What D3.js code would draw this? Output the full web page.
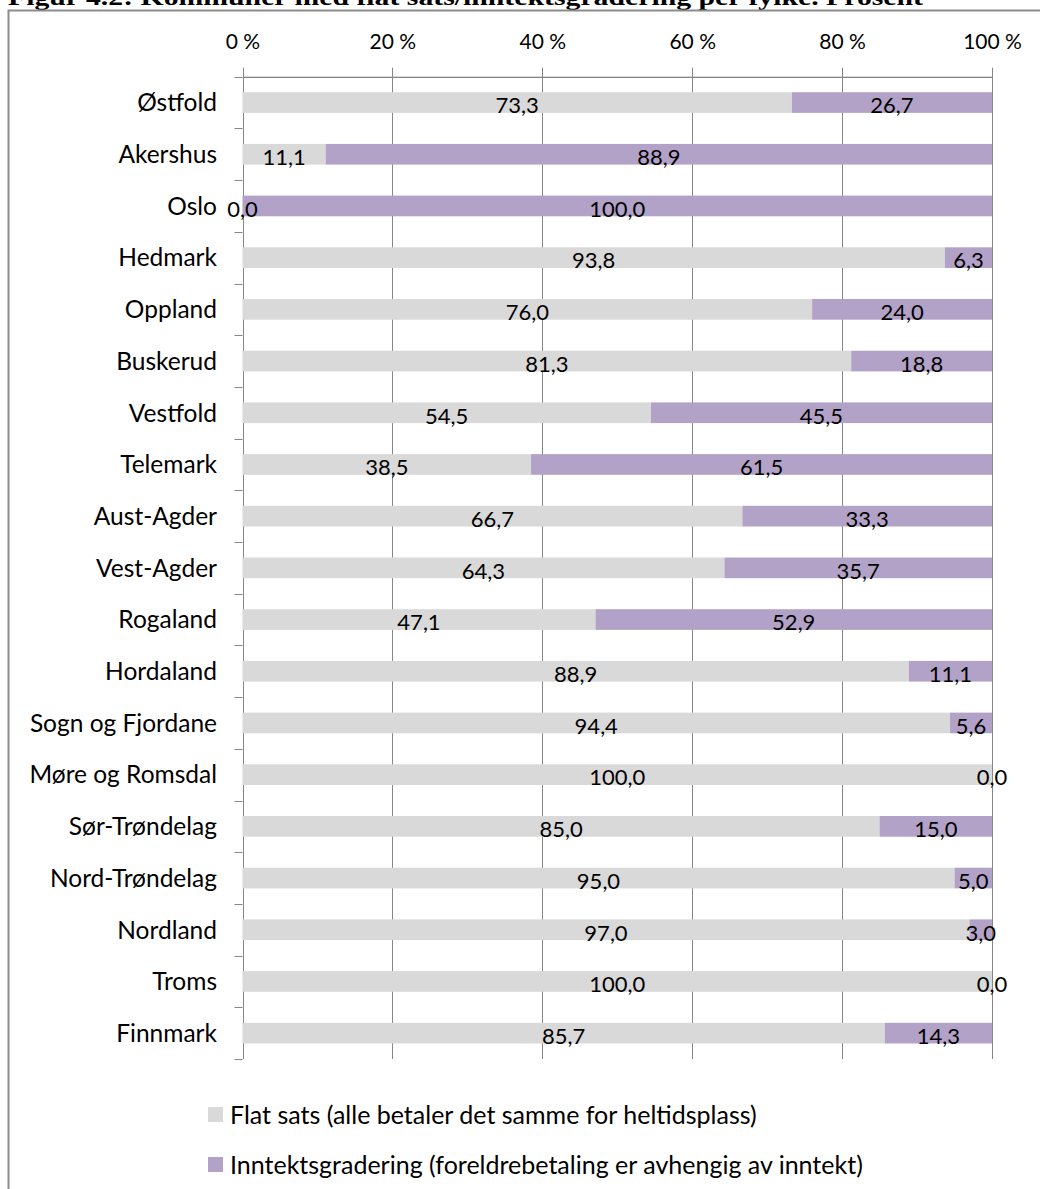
<!DOCTYPE html>
<html>
<head>
<meta charset="utf-8">
<script src="https://cdn.jsdelivr.net/npm/d3@7"></script>
<style>
  html, body { margin: 0; padding: 0; background: #fff; }
  svg { display: block; }
</style>
</head>
<body>
<svg id="chart" width="1040" height="1189"></svg>
<script>
const categories = ["Østfold","Akershus","Oslo","Hedmark","Oppland","Buskerud","Vestfold","Telemark","Aust-Agder","Vest-Agder","Rogaland","Hordaland","Sogn og Fjordane","Møre og Romsdal","Sør-Trøndelag","Nord-Trøndelag","Nordland","Troms","Finnmark"];
const flatSats = [73.3,11.1,0.0,93.8,76.0,81.3,54.5,38.5,66.7,64.3,47.1,88.9,94.4,100.0,85.0,95.0,97.0,100.0,85.7];
const inntekt = [26.7,88.9,100.0,6.3,24.0,18.8,45.5,61.5,33.3,35.7,52.9,11.1,5.6,0.0,15.0,5.0,3.0,0.0,14.3];
const seriesNames = ["Flat sats (alle betaler det samme for heltidsplass)","Inntektsgradering (foreldrebetaling er avhengig av inntekt)"];
const tickValues = [0,0.2,0.4,0.6,0.8,1.0];
const tickLabels = ["0 %","20 %","40 %","60 %","80 %","100 %"];
const title = "Figur 4.2: Kommuner med flat sats/inntektsgradering per fylke. Prosent";

const colors = ["#D9D9D9","#B3A2C7"];
const font = "Lato, 'Open Sans', sans-serif";

const svg = d3.select("#chart");

// title (clipped at top as in reference)
svg.append("text")
  .attr("x", 8).attr("y", 5)
  .attr("font-family", "'Liberation Serif', 'Times New Roman', serif")
  .attr("font-weight", "bold")
  .attr("font-size", 24)
  .attr("textLength", 915)
  .attr("lengthAdjust", "spacingAndGlyphs")
  .text(title);

// frame
svg.append("rect")
  .attr("x", 8.5).attr("y", 10.5)
  .attr("width", 1100).attr("height", 1300)
  .attr("fill", "none")
  .attr("stroke", "#8c8c8c")
  .attr("stroke-width", 2);

const x0 = 242.5, x1 = 992, yTop = 76.7, yBot = 1059;
const x = d3.scaleLinear().domain([0,1]).range([x0,x1]);
const y = d3.scaleBand().domain(categories).range([yTop,yBot]).paddingInner(0.6).paddingOuter(0.3);

const rows = categories.map((c,i) => ({cat:c, flat:flatSats[i], inc:inntekt[i], total:flatSats[i]+inntekt[i]}));
const stack = d3.stack().keys(["flat","inc"]).value((d,k) => d[k]/d.total);
const stacked = stack(rows);

// gridlines
svg.append("g").selectAll("line").data(tickValues).join("line")
  .attr("x1", d => Math.round(x(d))+0.5).attr("x2", d => Math.round(x(d))+0.5)
  .attr("y1", yTop-9).attr("y2", yBot)
  .attr("stroke", "#868686").attr("stroke-width", 1);

// top axis
const xAxis = d3.axisTop(x).tickValues(tickValues).tickFormat((d,i) => tickLabels[i]).tickSize(0).tickPadding(0);
const gx = svg.append("g").attr("transform", `translate(0,${yTop})`).call(xAxis);
gx.select(".domain").attr("stroke", "#868686");
gx.selectAll("text")
  .attr("y", -28)
  .attr("dy", null)
  .attr("font-family", font).attr("font-size", 21).attr("fill", "#000");

// horizontal axis line
svg.append("line").attr("x1", x0).attr("x2", x1).attr("y1", Math.round(yTop)+0.5).attr("y2", Math.round(yTop)+0.5)
  .attr("stroke", "#868686");

// left axis
const yAxisBand = d3.scaleBand().domain(categories).range([yTop,yBot]);
const boundaries = d3.range(categories.length+1).map(i => yTop + i*yAxisBand.step());
svg.append("g").selectAll("line").data(boundaries).join("line")
  .attr("x1", x0-8).attr("x2", x0)
  .attr("y1", d => Math.round(d)+0.5).attr("y2", d => Math.round(d)+0.5)
  .attr("stroke", "#868686");
svg.append("line").attr("x1", Math.round(x0)+0.5).attr("x2", Math.round(x0)+0.5)
  .attr("y1", yTop).attr("y2", yBot).attr("stroke", "#868686");

svg.append("g").selectAll("text").data(categories).join("text")
  .attr("x", 217)
  .attr("y", d => y(d) + y.bandwidth()/2)
  .attr("dy", "0.36em")
  .attr("text-anchor", "end")
  .attr("font-family", font).attr("font-size", 24.5).attr("fill", "#000")
  .text(d => d);

// bars
const layers = svg.append("g").selectAll("g").data(stacked).join("g")
  .attr("fill", (d,i) => colors[i]);
layers.selectAll("rect").data(d => d).join("rect")
  .attr("x", d => x(d[0]))
  .attr("width", d => x(d[1]) - x(d[0]))
  .attr("y", d => y(d.data.cat))
  .attr("height", y.bandwidth());

// value labels
const fmt = v => v.toFixed(1).replace(".", ",");
svg.append("g").selectAll("g").data(stacked).join("g")
  .selectAll("text").data((layer) => layer.map(d => ({d, key: layer.key}))).join("text")
  .attr("x", o => (x(o.d[0]) + x(o.d[1]))/2)
  .attr("y", o => y(o.d.data.cat) + y.bandwidth() + 0.5)
  .attr("text-anchor", "middle")
  .attr("font-family", font).attr("font-size", 22).attr("fill", "#000")
  .text(o => fmt(o.d.data[o.key]));

// legend
const legend = svg.append("g").selectAll("g").data(seriesNames).join("g")
  .attr("transform", (d,i) => `translate(208,${1107 + i*50})`);
legend.append("rect").attr("width", 15).attr("height", 15).attr("fill", (d,i) => colors[i]);
legend.append("text").attr("x", 22).attr("y", 7.5).attr("dy", "0.36em")
  .attr("font-family", font).attr("font-size", 25).attr("fill", "#000")
  .text(d => d);
</script>
</body>
</html>
